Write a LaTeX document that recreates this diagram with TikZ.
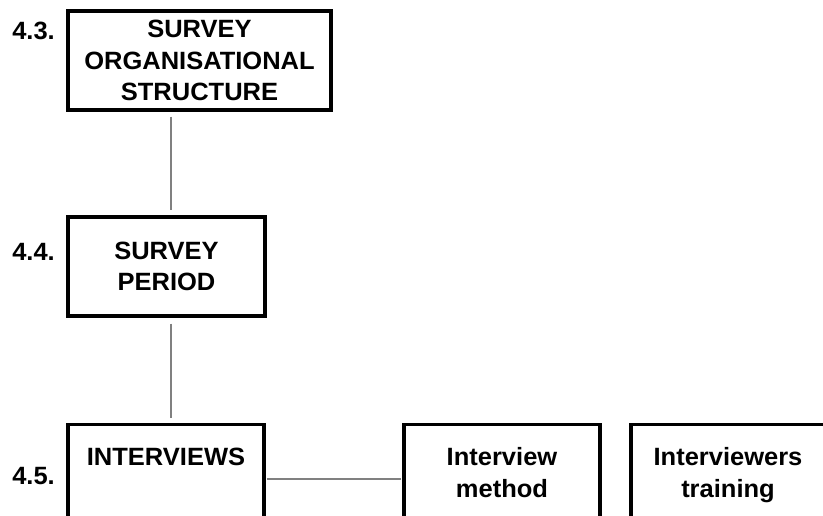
\documentclass[tikz,border=0pt]{standalone}
\usepackage{fontspec}
\setmainfont{Liberation Sans}[FakeStretch=1.02]

\tikzset{
	x=1pt, y=1pt,
	box/.style={draw, line width=3.4pt, align=center, inner sep=0pt,
		font=\bfseries\fontsize{25}{31.5}\selectfont},
	openbox/.style={box, anchor=north, inner ysep=23pt, text depth=120pt},
	lbl/.style={anchor=base east, inner sep=0pt, font=\bfseries\fontsize{25}{31.5}\selectfont},
	conn/.style={draw=gray, line width=1.3pt}
}

\begin{document}
\begin{tikzpicture}
	\useasboundingbox (0,0) rectangle (823,-515);
	\clip (0,0) rectangle (823,-515);
	% boxes
	\node[box, minimum width=263pt, minimum height=99pt] (org) at (199.5,-60.5)
		{SURVEY\\ORGANISATIONAL\\STRUCTURE};
	\node[box, minimum width=197pt, minimum height=99pt] (period) at (166.5,-266.5)
		{SURVEY\\PERIOD};
	\node[openbox, minimum width=196pt] (intv) at (166,-423) {INTERVIEWS};
	\node[openbox, minimum width=196pt] (method) at (502,-423) {Interview\\method};
	\node[openbox, minimum width=194pt] (training) at (728,-423) {Interviewers\\training};
	% numbers
	\node[lbl] (n43) at (55,-39) {4.3.};
	\node[lbl] (n44) at (55,-260) {4.4.};
	\node[lbl] (n45) at (55,-484) {4.5.};
	% connectors
	\coordinate (spine) at (171,0);
	\coordinate (level) at (0,-479);
	\path[conn]
		(org.south -| spine) edge[shorten <=5pt, shorten >=5pt] (period.north -| spine)
		(period.south -| spine) edge[shorten <=6pt, shorten >=5pt] (intv.north -| spine)
		(intv.east |- level) edge[shorten <=1pt, shorten >=1pt] (method.west |- level);
\end{tikzpicture}
\end{document}
